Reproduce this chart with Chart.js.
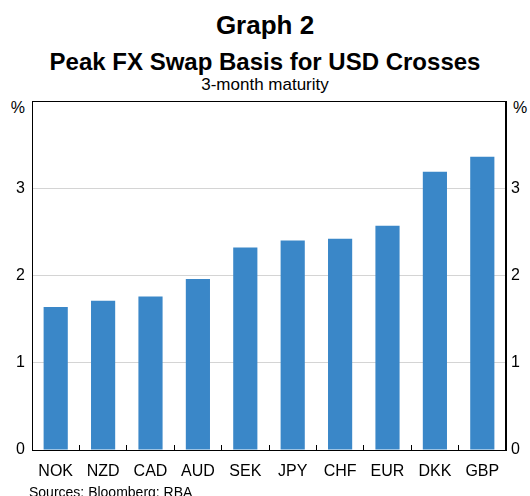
<!DOCTYPE html>
<html>
<head>
<meta charset="utf-8">
<script src="https://cdn.jsdelivr.net/npm/chart.js@4/dist/chart.umd.min.js"></script>
<style>
  html, body { margin: 0; padding: 0; background: #fff; }
  body { width: 530px; height: 496px; position: relative; overflow: hidden; font-family: "Liberation Sans", Arial, sans-serif; color: #000; }
  .t { position: absolute; white-space: nowrap; }
  #wrap { position: absolute; left: 0; top: 0; width: 530px; height: 496px; }
</style>
</head>
<body>
<div class="t" style="left:0;width:530px;text-align:center;top:12px;font-size:26px;line-height:26px;font-weight:bold;">Graph 2</div>
<div class="t" style="left:0;width:530px;text-align:center;top:50px;font-size:24px;line-height:24px;font-weight:bold;">Peak FX Swap Basis for USD Crosses</div>
<div class="t" style="left:0;width:530px;text-align:center;top:76px;font-size:17px;line-height:17px;">3-month maturity</div>
<div class="t" style="left:5px;width:20px;text-align:right;top:100px;font-size:16px;line-height:16px;">%</div>
<div class="t" style="left:513px;top:100px;font-size:16px;line-height:16px;">%</div>
<div id="wrap"><canvas id="c" width="530" height="496"></canvas></div>
<div class="t" style="left:29px;top:485px;font-size:14px;line-height:14px;">Sources: Bloomberg; RBA</div>
<script>
const categories = ['NOK', 'NZD', 'CAD', 'AUD', 'SEK', 'JPY', 'CHF', 'EUR', 'DKK', 'GBP'];
const basisValues = [1.64, 1.71, 1.76, 1.96, 2.32, 2.40, 2.42, 2.57, 3.19, 3.36];
const yTicks = [0, 1, 2, 3, 4];

const frame = {
  id: 'frame',
  afterDraw(chart) {
    const a = chart.chartArea, ctx = chart.ctx;
    ctx.save();
    ctx.strokeStyle = '#000';
    ctx.lineWidth = 1;
    ctx.strokeRect(Math.round(a.left) + 0.5, Math.round(a.top) + 0.5, Math.round(a.right - a.left) - 1, Math.round(a.bottom - a.top));
    ctx.restore();
  }
};

const tickLabel = v => (v === yTicks[yTicks.length - 1] ? '' : String(v));

new Chart(document.getElementById('c'), {
  type: 'bar',
  data: {
    labels: categories,
    datasets: [{
      data: basisValues,
      backgroundColor: '#3a87c8',
      borderWidth: 0,
      categoryPercentage: 1.0,
      barPercentage: 0.51
    }]
  },
  options: {
    responsive: false,
    animation: false,
    devicePixelRatio: 1,
    layout: { padding: { top: 101, bottom: 0, left: 0, right: 0 } },
    plugins: { legend: { display: false }, tooltip: { enabled: false }, title: { display: false } },
    scales: {
      x: {
        position: 'bottom',
        offset: true,
        grid: { display: true, drawOnChartArea: false, drawTicks: true, tickLength: -5, color: '#000', lineWidth: 1, offset: true },
        border: { display: true, color: '#000', width: 1 },
        ticks: { color: '#000', font: { family: 'Liberation Sans', size: 16 }, padding: 17, maxRotation: 0, autoSkip: false },
        afterFit(s) { s.height = 46; }
      },
      y: {
        position: 'left',
        min: 0, max: 4,
        afterBuildTicks(s) { s.ticks = yTicks.map(v => ({ value: v })); },
        grid: { color: '#d4d4d4', lineWidth: 1, drawTicks: false },
        border: { display: true, color: '#000', width: 1 },
        ticks: { color: '#000', font: { family: 'Liberation Sans', size: 16 }, padding: 7, callback: tickLabel },
        afterFit(s) { s.width = 32; }
      },
      y2: {
        position: 'right',
        min: 0, max: 4,
        afterBuildTicks(s) { s.ticks = yTicks.map(v => ({ value: v })); },
        grid: { display: false, drawTicks: false },
        border: { display: true, color: '#000', width: 1 },
        ticks: { color: '#000', font: { family: 'Liberation Sans', size: 16 }, padding: 5, callback: tickLabel },
        afterFit(s) { s.width = 24; }
      }
    }
  },
  plugins: [frame]
});
</script>
</body>
</html>
